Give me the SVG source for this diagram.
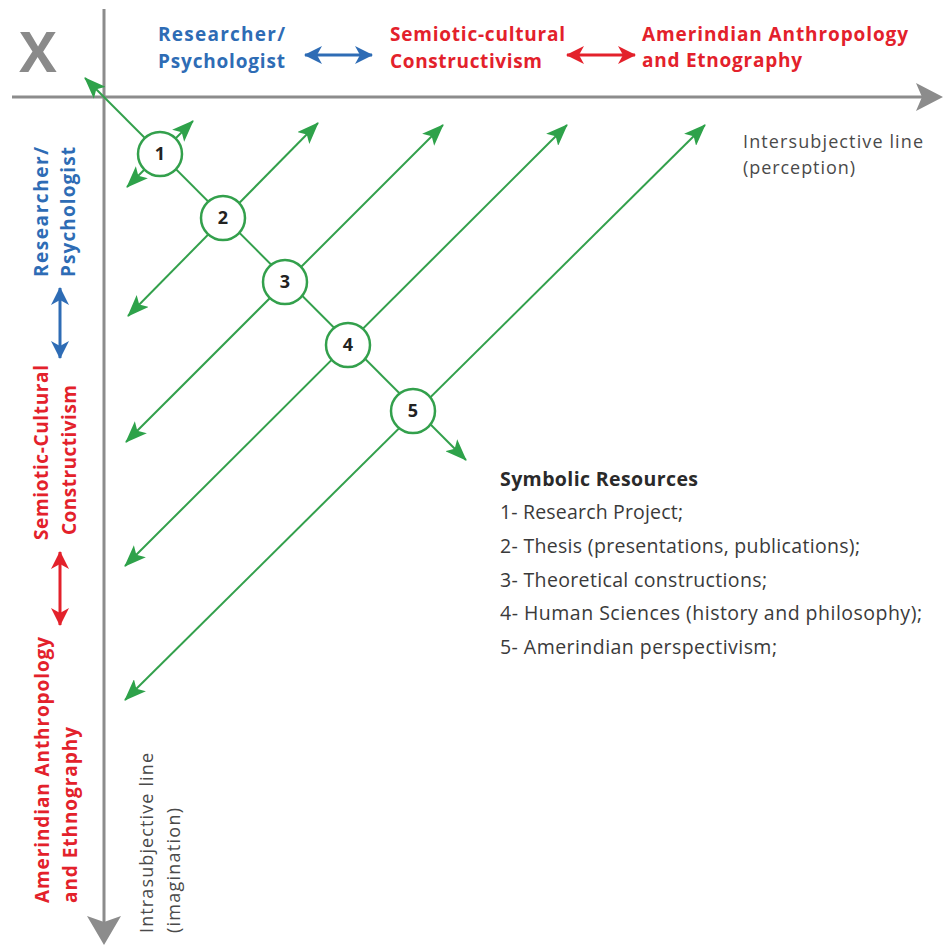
<svg xmlns="http://www.w3.org/2000/svg" width="943" height="947" viewBox="0 0 943 947">
<style>
.lbl{font-family:"Open Sans","Noto Sans","Liberation Sans",sans-serif;font-weight:bold;font-size:19px}
.blue{fill:#2e6cb5}
.red{fill:#e3212b}
.note{font-family:"Open Sans","Noto Sans","Liberation Sans",sans-serif;font-size:18px;fill:#4a4a4a}
.leg{font-family:"Open Sans","Noto Sans","Liberation Sans",sans-serif;font-size:19.5px;fill:#3a3a3a}
.legh{font-weight:bold;fill:#2a2a2a}
.num{font-family:"Open Sans","Noto Sans","Liberation Sans",sans-serif;font-weight:bold;font-size:18px;fill:#222;text-anchor:middle}
.g{stroke:#33a04c;stroke-width:2;fill:none}
.node circle{fill:#fff;stroke:#33a04c;stroke-width:2.5}
.axis{stroke:#8c8c8c;stroke-width:3;fill:none}
</style>
<defs>
<marker id="ag" viewBox="0 0 22 17" refX="21" refY="8.5" markerWidth="22" markerHeight="17" markerUnits="userSpaceOnUse" orient="auto-start-reverse">
<path d="M0,0 L22,8.5 L0,17 L5,8.5 z" fill="#2ea24a"/>
</marker>
<marker id="ab" viewBox="0 0 18 18" refX="17" refY="9" markerWidth="18" markerHeight="18" markerUnits="userSpaceOnUse" orient="auto-start-reverse">
<path d="M0,0 L18,9 L0,18 L5,9 z" fill="#2e6cb5"/>
</marker>
<marker id="ar" viewBox="0 0 18 18" refX="17" refY="9" markerWidth="18" markerHeight="18" markerUnits="userSpaceOnUse" orient="auto-start-reverse">
<path d="M0,0 L18,9 L0,18 L5,9 z" fill="#e3212b"/>
</marker>
</defs>
<rect width="943" height="947" fill="#fff"/>

<g id="axes">
<line class="axis" x1="12" y1="97" x2="925" y2="97"/>
<path d="M943,97 L916,83 L922,97 L916,111 z" fill="#8c8c8c"/>
<line class="axis" x1="104" y1="9" x2="104" y2="925"/>
<path d="M104,945 L87,916 L104,922 L121,916 z" fill="#8c8c8c"/>
</g>

<g id="x-mark">
<text x="38" y="72" text-anchor="middle" style="font-family:'Open Sans','Liberation Sans',sans-serif;font-weight:bold;font-size:56px;fill:#8a8a8a">X</text>
</g>

<g id="top-labels">
<text class="lbl blue" x="158" y="41" textLength="127">Researcher/</text>
<text class="lbl blue" x="158" y="68" textLength="127">Psychologist</text>
<text class="lbl red" x="390" y="41" textLength="175">Semiotic-cultural</text>
<text class="lbl red" x="390" y="68" textLength="152">Constructivism</text>
<text class="lbl red" x="642" y="41" textLength="266">Amerindian Anthropology</text>
<text class="lbl red" x="642" y="67" textLength="160">and Etnography</text>
</g>

<g id="left-labels">
<text class="lbl blue" transform="translate(48,277) rotate(-90)" textLength="130">Researcher/</text>
<text class="lbl blue" transform="translate(75,277) rotate(-90)" textLength="130">Psychologist</text>
<text class="lbl red" transform="translate(48,540) rotate(-90)" textLength="175">Semiotic-Cultural</text>
<text class="lbl red" transform="translate(76,535) rotate(-90)" textLength="150">Constructivism</text>
<text class="lbl red" transform="translate(49,903) rotate(-90)" textLength="266">Amerindian Anthropology</text>
<text class="lbl red" transform="translate(77,903) rotate(-90)" textLength="176">and Ethnography</text>
</g>

<g id="axis-notes">
<text class="note" x="743" y="148" textLength="180">Intersubjective line</text>
<text class="note" x="743" y="174" textLength="112">(perception)</text>
<text class="note" transform="translate(153,933) rotate(-90)" textLength="180">Intrasubjective line</text>
<text class="note" transform="translate(180,933) rotate(-90)" textLength="125">(imagination)</text>
</g>

<g id="connectors">
<line x1="305" y1="55" x2="372" y2="55" stroke="#2e6cb5" stroke-width="3" marker-start="url(#ab)" marker-end="url(#ab)"/>
<line x1="567" y1="55" x2="635" y2="55" stroke="#e3212b" stroke-width="3" marker-start="url(#ar)" marker-end="url(#ar)"/>
<line x1="60" y1="288" x2="60" y2="358" stroke="#2e6cb5" stroke-width="3" marker-start="url(#ab)" marker-end="url(#ab)"/>
<line x1="60" y1="552" x2="60" y2="625" stroke="#e3212b" stroke-width="3" marker-start="url(#ar)" marker-end="url(#ar)"/>
<line class="g" x1="85" y1="78" x2="466" y2="460" marker-start="url(#ag)" marker-end="url(#ag)"/>
<line class="g" x1="127" y1="187" x2="193" y2="121" marker-start="url(#ag)" marker-end="url(#ag)"/>
<line class="g" x1="128" y1="316" x2="318" y2="123" marker-start="url(#ag)" marker-end="url(#ag)"/>
<line class="g" x1="126" y1="442" x2="443" y2="125" marker-start="url(#ag)" marker-end="url(#ag)"/>
<line class="g" x1="125" y1="566" x2="567" y2="125" marker-start="url(#ag)" marker-end="url(#ag)"/>
<line class="g" x1="125" y1="700" x2="705" y2="125" marker-start="url(#ag)" marker-end="url(#ag)"/>
</g>

<g id="node-1" class="node"><circle cx="160" cy="154" r="22"/><text class="num" x="160" y="160">1</text></g>
<g id="node-2" class="node"><circle cx="223" cy="218" r="22"/><text class="num" x="223" y="224">2</text></g>
<g id="node-3" class="node"><circle cx="285" cy="282" r="22"/><text class="num" x="285" y="288">3</text></g>
<g id="node-4" class="node"><circle cx="348" cy="345" r="22"/><text class="num" x="348" y="351">4</text></g>
<g id="node-5" class="node"><circle cx="413" cy="411" r="22"/><text class="num" x="413" y="417">5</text></g>

<g id="legend">
<text class="leg legh" x="500" y="486" textLength="198">Symbolic Resources</text>
<text class="leg" x="500" y="519" textLength="183">1- Research Project;</text>
<text class="leg" x="500" y="553" textLength="360">2- Thesis (presentations, publications);</text>
<text class="leg" x="500" y="587" textLength="267">3- Theoretical constructions;</text>
<text class="leg" x="500" y="620" textLength="422">4- Human Sciences (history and philosophy);</text>
<text class="leg" x="500" y="654" textLength="277">5- Amerindian perspectivism;</text>
</g>
</svg>
